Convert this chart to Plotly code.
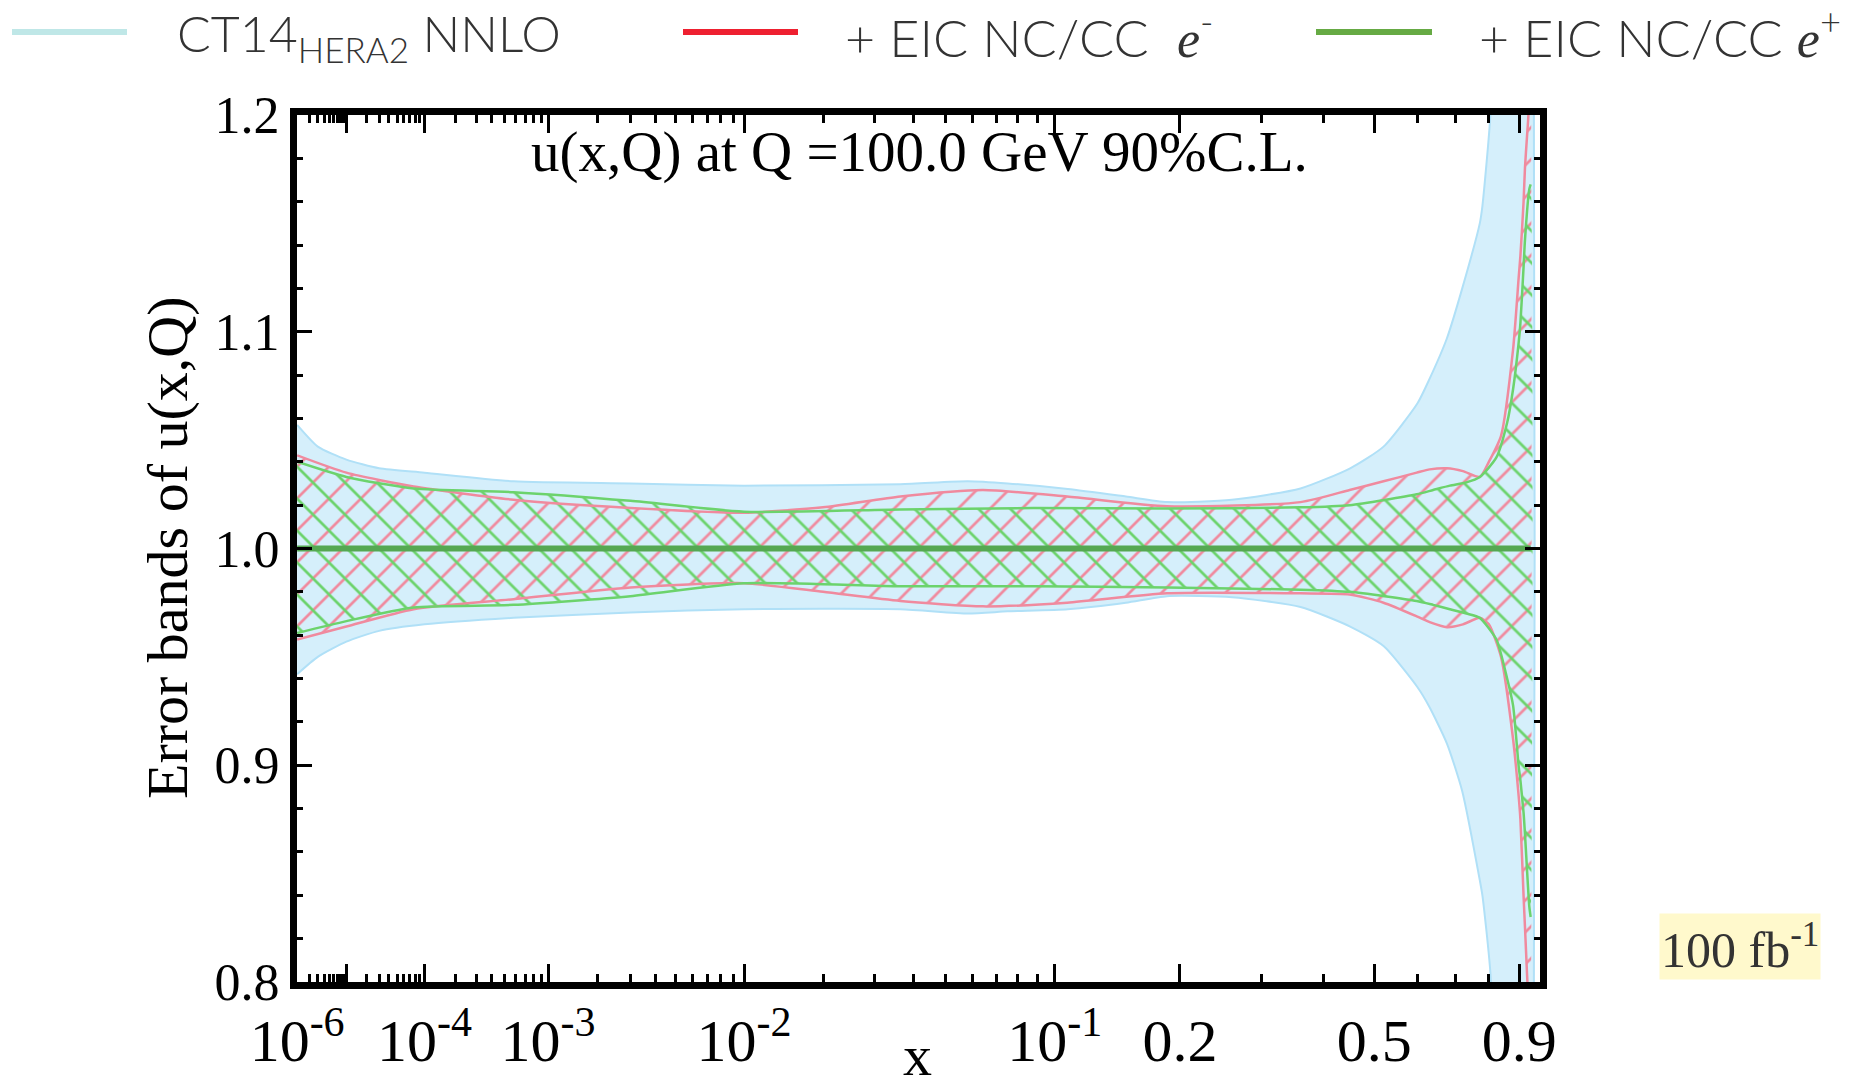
import plotly.graph_objects as go

# ---------------- data ----------------
# CT14 HERA2 NNLO 90% CL band
ct14_x = [1e-6, 3e-6, 1e-5, 3e-5, 1e-4, 5.8e-4, 3e-3, 0.01, 0.0363, 0.058, 0.075, 0.108, 0.15,
          0.187, 0.26, 0.36, 0.45, 0.52, 0.60, 0.63, 0.677, 0.72, 0.772, 0.78, 0.805, 0.83, 0.88, 0.94]
ct14_up = [1.057, 1.047, 1.041, 1.037, 1.035, 1.031, 1.030, 1.029, 1.0297, 1.031, 1.030, 1.0275, 1.024,
           1.0214, 1.0225, 1.0277, 1.037, 1.047, 1.067, 1.078, 1.097, 1.120, 1.150, 1.158, 1.200, 1.30, 1.6, 2.0]
ct14_lo = [0.942, 0.950, 0.957, 0.962, 0.965, 0.968, 0.9705, 0.972, 0.972, 0.970, 0.971, 0.972, 0.975,
           0.978, 0.9775, 0.973, 0.964, 0.955, 0.936, 0.927, 0.910, 0.888, 0.847, 0.840, 0.804, 0.70, 0.4, 0.0]

# + EIC NC/CC e- band
em_x = [1e-6, 1e-5, 7.7e-5, 5.8e-4, 3e-3, 0.01, 0.02, 0.0363, 0.064, 0.1076, 0.187, 0.36, 0.449,
        0.52, 0.598, 0.631, 0.677, 0.722, 0.772, 0.80, 0.839, 0.879, 0.898, 0.904, 0.915, 0.92, 0.927, 0.932, 0.94]
em_up = [1.043, 1.035, 1.0286, 1.0225, 1.0187, 1.0165, 1.019, 1.024, 1.027, 1.024, 1.0195, 1.0214, 1.027,
         1.031, 1.035, 1.0365, 1.037, 1.0357, 1.033, 1.040, 1.052, 1.092, 1.125, 1.135, 1.160, 1.176, 1.190, 1.200, 1.250]
em_lo = [0.958, 0.964, 0.972, 0.9766, 0.982, 0.984, 0.980, 0.9758, 0.9733, 0.975, 0.9793, 0.9793, 0.9788,
         0.975, 0.9687, 0.966, 0.9637, 0.965, 0.968, 0.965, 0.950, 0.912, 0.8857, 0.875, 0.8396, 0.825, 0.804, 0.790, 0.760]

# + EIC NC/CC e+ band
ep_x = [1e-6, 1e-5, 7.7e-5, 5.8e-4, 3e-3, 0.01, 0.0363, 0.088, 0.187, 0.36, 0.449, 0.598, 0.64,
        0.685, 0.732, 0.772, 0.824, 0.859, 0.879, 0.898, 0.904, 0.915, 0.92, 0.935, 0.94]
ep_up = [1.040, 1.033, 1.0277, 1.026, 1.022, 1.017, 1.018, 1.0187, 1.0184, 1.019, 1.020, 1.025, 1.027,
         1.029, 1.0305, 1.033, 1.042, 1.058, 1.0736, 1.095, 1.104, 1.130, 1.1426, 1.1657, 1.168]
ep_lo = [0.961, 0.9665, 0.9728, 0.974, 0.978, 0.984, 0.9826, 0.9826, 0.982, 0.981, 0.980, 0.9758, 0.974,
         0.972, 0.970, 0.968, 0.958, 0.940, 0.9275, 0.8995, 0.893, 0.878, 0.868, 0.835, 0.830]

central_x = [1e-6, 0.94]
central_y = [1.0, 1.0]

major_x = [1e-6, 1e-5, 1e-4, 1e-3, 1e-2, 0.1, 0.2, 0.5, 0.9]
major_lbl = ["10<sup>-6</sup>", "", "10<sup>-4</sup>", "10<sup>-3</sup>", "10<sup>-2</sup>",
             "10<sup>-1</sup>", "0.2", "0.5", "0.9"]
minor_x = ([m * 10.0 ** e for e in (-6, -5, -4, -3, -2) for m in range(2, 10)]
           + [0.3, 0.4, 0.6, 0.7, 0.8])
y_ticks = [0.8, 0.9, 1.0, 1.1, 1.2]

# The reference uses an x^0.2 axis scale
P = 0.2
def sx(v):
    return [t ** P for t in v]

# ---------------- figure ----------------
fig = go.Figure()

BLUE_FILL = "#d5effb"
BLUE_EDGE = "#b0e0f7"
PINK = "#f08a9e"
LGREEN = "#6cd36c"
SM = 0.6

def band(x, up, lo, **kw):
    return go.Scatter(x=sx(x) + sx(x[::-1]), y=up + lo[::-1], mode="lines",
                      showlegend=False, hoverinfo="skip", **kw)

fig.add_trace(band(ct14_x, ct14_up, ct14_lo, fill="toself", fillcolor=BLUE_FILL,
                   line=dict(color=BLUE_EDGE, width=2, shape="spline", smoothing=SM)))
fig.add_trace(band(em_x, em_up, em_lo, fill="toself", fillcolor="rgba(0,0,0,0)",
                   fillpattern=dict(shape="/", fgcolor=PINK, size=22.6, solidity=0.12, fgopacity=1),
                   line=dict(color="rgba(0,0,0,0)", width=0, shape="spline", smoothing=SM)))
fig.add_trace(band(ep_x, ep_up, ep_lo, fill="toself", fillcolor="rgba(0,0,0,0)",
                   fillpattern=dict(shape="\\", fgcolor=LGREEN, size=22.6, solidity=0.12, fgopacity=1),
                   line=dict(color="rgba(0,0,0,0)", width=0, shape="spline", smoothing=SM)))
for yy in (em_up, em_lo):
    fig.add_trace(go.Scatter(x=sx(em_x), y=yy, mode="lines",
                             line=dict(color=PINK, width=2.5, shape="spline", smoothing=SM),
                             showlegend=False, hoverinfo="skip"))
for yy in (ep_up, ep_lo):
    fig.add_trace(go.Scatter(x=sx(ep_x), y=yy, mode="lines",
                             line=dict(color=LGREEN, width=2.5, shape="spline", smoothing=SM),
                             showlegend=False, hoverinfo="skip"))
fig.add_trace(go.Scatter(x=sx(central_x), y=central_y, mode="lines",
                         line=dict(color="#55a852", width=6), showlegend=False, hoverinfo="skip"))

W, H = 1868, 1091
L, R, T, B = 297, 1540, 115, 982
def px(xp):
    return (xp - L) / (R - L)
def py(yp):
    return (B - yp) / (B - T)

SERIF = "Liberation Serif"
axis_common = dict(showline=True, linewidth=7, linecolor="black", mirror="allticks",
                   ticks="inside", tickcolor="black", tickwidth=3, showgrid=False, zeroline=False,
                   automargin=False, tickangle=0)

fig.update_xaxes(range=[1e-6 ** P - 0.0001, 0.9947], tickmode="array", tickvals=sx(major_x),
                 ticktext=major_lbl, ticklen=18,
                 tickfont=dict(family=SERIF, size=60, color="black"),
                 minor=dict(tickmode="array", tickvals=sx(minor_x), ticklen=8, tickwidth=2.5,
                            ticks="inside", tickcolor="black"),
                 **axis_common)
fig.update_yaxes(range=[0.8, 1.2], tickmode="array", tickvals=y_ticks, tickformat=".1f",
                 ticklen=15, tickfont=dict(family=SERIF, size=52, color="black"),
                 minor=dict(dtick=0.02, ticklen=6, tickwidth=2.5, ticks="inside", tickcolor="black"),
                 **axis_common)

ann = []
ann.append(dict(text="u(x,Q) at Q =100.0 GeV 90%C.L.", x=px(919), y=py(152), xref="paper", yref="paper",
                showarrow=False, font=dict(family=SERIF, size=57, color="black"),
                xanchor="center", yanchor="middle"))
ann.append(dict(text="Error bands of u(x,Q)", x=px(167), y=py(548), xref="paper", yref="paper",
                showarrow=False, textangle=-90, font=dict(family=SERIF, size=58, color="black"),
                xanchor="center", yanchor="middle"))
ann.append(dict(text="x", x=px(917), y=py(1090), xref="paper", yref="paper", showarrow=False,
                font=dict(family=SERIF, size=58, color="black"), xanchor="center", yanchor="bottom"))
ann.append(dict(text="100 fb<sup>-1</sup>", x=px(1740), y=py(946), xref="paper", yref="paper",
                showarrow=False, bgcolor="#fff9cc", font=dict(family=SERIF, size=50, color="#333333"),
                xanchor="center", yanchor="middle"))

LEG_FONT = dict(family="Lato", size=50, color="#333333", weight=300)
LEG_FONT2 = dict(family="Lato", size=52, color="#333333", weight=300)
E_SPAN = "<span style=\"font-family:'Liberation Serif';font-weight:400\"><i>e</i></span>"
shapes = []
legend_lines = [("#bfe7e7", 12, 127), ("#ee2030", 683, 798), ("#66aa44", 1316, 1432)]
for col, x0, x1 in legend_lines:
    shapes.append(dict(type="line", xref="paper", yref="paper", x0=px(x0), x1=px(x1),
                       y0=py(32), y1=py(32), line=dict(color=col, width=6)))
ann.append(dict(text="CT14<sub>HERA2</sub> NNLO", x=px(175), y=py(1), xref="paper", yref="paper",
                showarrow=False, font=LEG_FONT, xanchor="left", yanchor="top"))
ann.append(dict(text="+ EIC NC/CC  " + E_SPAN + "<sup>-</sup>", x=px(843), y=py(34),
                xref="paper", yref="paper", showarrow=False, font=LEG_FONT2,
                xanchor="left", yanchor="middle"))
ann.append(dict(text="+ EIC NC/CC " + E_SPAN + "<sup>+</sup>", x=px(1477), y=py(34),
                xref="paper", yref="paper", showarrow=False, font=LEG_FONT2,
                xanchor="left", yanchor="middle"))

fig.update_layout(width=W, height=H, margin=dict(l=L, r=W - R, t=T, b=H - B),
                  paper_bgcolor="white", plot_bgcolor="white", showlegend=False,
                  annotations=ann, shapes=shapes)

fig.write_html("out.html")
